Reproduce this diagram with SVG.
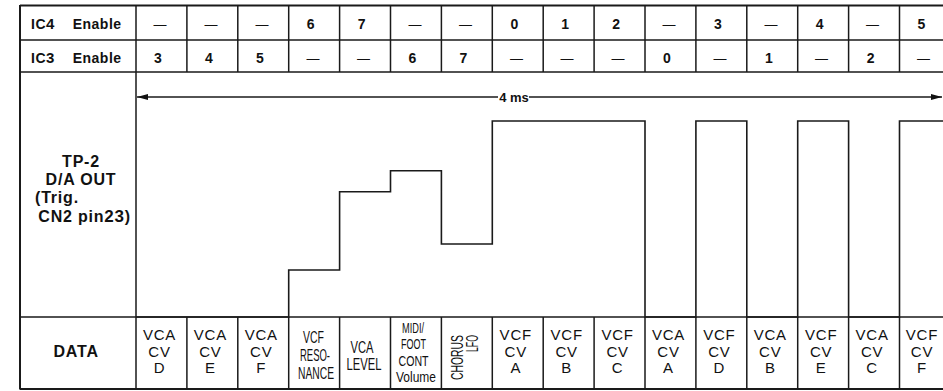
<svg xmlns="http://www.w3.org/2000/svg" width="943" height="391" viewBox="0 0 943 391">
<style>
.g{stroke:#1a1a1a;stroke-width:1.5;fill:none}
.gb{stroke:#1a1a1a;stroke-width:2;fill:none}
.h{font-family:'Liberation Sans',Arial,sans-serif;font-weight:bold;font-size:14px;fill:#111;text-anchor:middle}
.dash{font-family:'Liberation Sans',Arial,sans-serif;font-size:13px;fill:#111;text-anchor:middle}
.lab{font-family:'Liberation Sans',Arial,sans-serif;font-weight:bold;font-size:14px;fill:#111;letter-spacing:0.5px}
.big{font-family:'Liberation Sans',Arial,sans-serif;font-weight:bold;font-size:16px;fill:#111;letter-spacing:0.8px}
.d{font-family:'Liberation Sans',Arial,sans-serif;font-size:15px;fill:#111;text-anchor:middle;letter-spacing:0.8px}
.n{font-family:'Liberation Sans',Arial,sans-serif;font-size:16.5px;fill:#111;text-anchor:middle}
.n2{font-family:'Liberation Sans',Arial,sans-serif;font-size:15px;fill:#111;text-anchor:middle}
.ns{font-family:'Liberation Sans',Arial,sans-serif;font-size:16.5px;fill:#111}
.w{stroke:#1a1a1a;stroke-width:1.6;fill:none;stroke-linejoin:miter}
</style>
<defs>
<marker id="ah" viewBox="0 0 11 6" refX="11" refY="3" markerWidth="11" markerHeight="6" orient="auto-start-reverse" markerUnits="userSpaceOnUse"><path d="M0,0 L11,3 L0,6 z" fill="#111"/></marker>
</defs>
<rect width="943" height="391" fill="#fff"/>
<g id="grid">
<path class="gb" d="M20,5.5 H950 M20,389 H950 M20,5 V389.5"/>
<path class="g" d="M20,40 H950 M20,72 H950 M20,317 H950 M136,5 V389"/>
<path class="g" d="M186.9,5 V72 M237.8,5 V72 M288.7,5 V72 M339.6,5 V72 M390.5,5 V72 M441.4,5 V72 M492.3,5 V72 M543.2,5 V72 M594.1,5 V72 M645,5 V72 M695.9,5 V72 M746.8,5 V72 M797.7,5 V72 M848.6,5 V72 M899.5,5 V72"/>
<path class="g" d="M186.9,317 V389 M237.8,317 V389 M288.7,317 V389 M339.6,317 V389 M390.5,317 V389 M441.4,317 V389 M492.3,317 V389 M543.2,317 V389 M594.1,317 V389 M645,317 V389 M695.9,317 V389 M746.8,317 V389 M797.7,317 V389 M848.6,317 V389 M899.5,317 V389"/>
</g>
<g id="row-ic4">
<text class="lab" x="31" y="28.5">IC<tspan font-size="15">4</tspan><tspan x="72.7">Enable</tspan></text>
<text class="dash" x="160" y="28.5">—</text>
<text class="dash" x="211" y="28.5">—</text>
<text class="dash" x="262" y="28.5">—</text>
<text class="h" x="310.7" y="28.5">6</text>
<text class="h" x="361.6" y="28.5">7</text>
<text class="dash" x="415" y="28.5">—</text>
<text class="dash" x="465.5" y="28.5">—</text>
<text class="h" x="514.3" y="28.5">0</text>
<text class="h" x="565.2" y="28.5">1</text>
<text class="h" x="616.1" y="28.5">2</text>
<text class="dash" x="669" y="28.5">—</text>
<text class="h" x="717.9" y="28.5">3</text>
<text class="dash" x="771" y="28.5">—</text>
<text class="h" x="819.7" y="28.5">4</text>
<text class="dash" x="872.5" y="28.5">—</text>
<text class="h" x="921.5" y="28.5">5</text>
</g>
<g id="row-ic3">
<text class="lab" x="31" y="62.5">IC<tspan font-size="15">3</tspan><tspan x="72.7">Enable</tspan></text>
<text class="h" x="158" y="62.5">3</text>
<text class="h" x="209" y="62.5">4</text>
<text class="h" x="260" y="62.5">5</text>
<text class="dash" x="313" y="62.5">—</text>
<text class="dash" x="363.5" y="62.5">—</text>
<text class="h" x="412.5" y="62.5">6</text>
<text class="h" x="463.4" y="62.5">7</text>
<text class="dash" x="516.5" y="62.5">—</text>
<text class="dash" x="567" y="62.5">—</text>
<text class="dash" x="618" y="62.5">—</text>
<text class="h" x="667" y="62.5">0</text>
<text class="dash" x="720" y="62.5">—</text>
<text class="h" x="768.8" y="62.5">1</text>
<text class="dash" x="821.5" y="62.5">—</text>
<text class="h" x="870.6" y="62.5">2</text>
<text class="dash" x="923.5" y="62.5">—</text>
</g>
<g id="label-tp2">
<text class="big" x="81" y="166.7" text-anchor="middle">TP-2</text>
<text class="big" x="81" y="185" text-anchor="middle">D/A OUT</text>
<text class="big" x="35" y="203.3">(Trig.</text>
<text class="big" x="38.3" y="221.7">CN2 pin<tspan font-size="17">23</tspan>)</text>
</g>
<g id="time-arrow">
<path class="g" stroke-width="1.3" d="M137,97 H498" marker-start="url(#ah)"/>
<path class="g" stroke-width="1.3" d="M529,97 H942" marker-end="url(#ah)"/>
<text x="514" y="101.5" font-family="'Liberation Sans',Arial,sans-serif" font-weight="bold" font-size="13" fill="#111" text-anchor="middle">4 ms</text>
</g>
<g id="waveform">
<path class="w" d="M136,317 H288.7 V270 H339.6 V191.7 H390.5 V170.7 H441.4 V244 H492.3 V121 H645 V317 H695.9 V121 H746.8 V317 H797.7 V121 H848.6 V317 H899.5 V121 H950"/>
</g>
<g id="row-data">
<text class="big" x="53.5" y="356.7" font-size="14" letter-spacing="1.6">DATA</text>
<g id="d0"><text class="d" x="159.5" y="339.5">VCA</text><text class="d" x="159.5" y="356.5">CV</text><text class="d" x="159.5" y="373.3">D</text></g>
<g id="d1"><text class="d" x="210.4" y="339.5">VCA</text><text class="d" x="210.4" y="356.5">CV</text><text class="d" x="210.4" y="373.3">E</text></g>
<g id="d2"><text class="d" x="261.3" y="339.5">VCA</text><text class="d" x="261.3" y="356.5">CV</text><text class="d" x="261.3" y="373.3">F</text></g>
<g id="d3"><text class="n" x="313.5" y="343" textLength="21" lengthAdjust="spacingAndGlyphs">VCF</text><text class="n" x="315" y="361" textLength="30" lengthAdjust="spacingAndGlyphs">RESO-</text><text class="n" x="316" y="378.5" textLength="36" lengthAdjust="spacingAndGlyphs">NANCE</text></g>
<g id="d4"><text class="n" x="362" y="353" textLength="23" lengthAdjust="spacingAndGlyphs">VCA</text><text class="n" x="364" y="370" textLength="35" lengthAdjust="spacingAndGlyphs">LEVEL</text></g>
<g id="d5"><text class="n2" x="413" y="333" textLength="22" lengthAdjust="spacingAndGlyphs">MIDI/</text><text class="n2" x="413.5" y="349.3" textLength="25" lengthAdjust="spacingAndGlyphs">FOOT</text><text class="n2" x="413.5" y="365.6" textLength="30" lengthAdjust="spacingAndGlyphs">CONT</text><text class="n2" x="416" y="382" textLength="40" lengthAdjust="spacingAndGlyphs">Volume</text></g>
<g id="d6"><text class="ns" transform="translate(463.3,380) rotate(-90)" textLength="45" lengthAdjust="spacingAndGlyphs">CHORUS</text><text class="ns" transform="translate(478.3,352) rotate(-90)" textLength="17" lengthAdjust="spacingAndGlyphs">LFO</text></g>
<g id="d7"><text class="d" x="515.8" y="339.5">VCF</text><text class="d" x="515.8" y="356.5">CV</text><text class="d" x="515.8" y="373.3">A</text></g>
<g id="d8"><text class="d" x="566.7" y="339.5">VCF</text><text class="d" x="566.7" y="356.5">CV</text><text class="d" x="566.7" y="373.3">B</text></g>
<g id="d9"><text class="d" x="617.6" y="339.5">VCF</text><text class="d" x="617.6" y="356.5">CV</text><text class="d" x="617.6" y="373.3">C</text></g>
<g id="d10"><text class="d" x="668.5" y="339.5">VCA</text><text class="d" x="668.5" y="356.5">CV</text><text class="d" x="668.5" y="373.3">A</text></g>
<g id="d11"><text class="d" x="719.4" y="339.5">VCF</text><text class="d" x="719.4" y="356.5">CV</text><text class="d" x="719.4" y="373.3">D</text></g>
<g id="d12"><text class="d" x="770.3" y="339.5">VCA</text><text class="d" x="770.3" y="356.5">CV</text><text class="d" x="770.3" y="373.3">B</text></g>
<g id="d13"><text class="d" x="821.2" y="339.5">VCF</text><text class="d" x="821.2" y="356.5">CV</text><text class="d" x="821.2" y="373.3">E</text></g>
<g id="d14"><text class="d" x="872.1" y="339.5">VCA</text><text class="d" x="872.1" y="356.5">CV</text><text class="d" x="872.1" y="373.3">C</text></g>
<g id="d15"><text class="d" x="922" y="339.5">VCF</text><text class="d" x="922" y="356.5">CV</text><text class="d" x="922" y="373.3">F</text></g>
</g>
</svg>
